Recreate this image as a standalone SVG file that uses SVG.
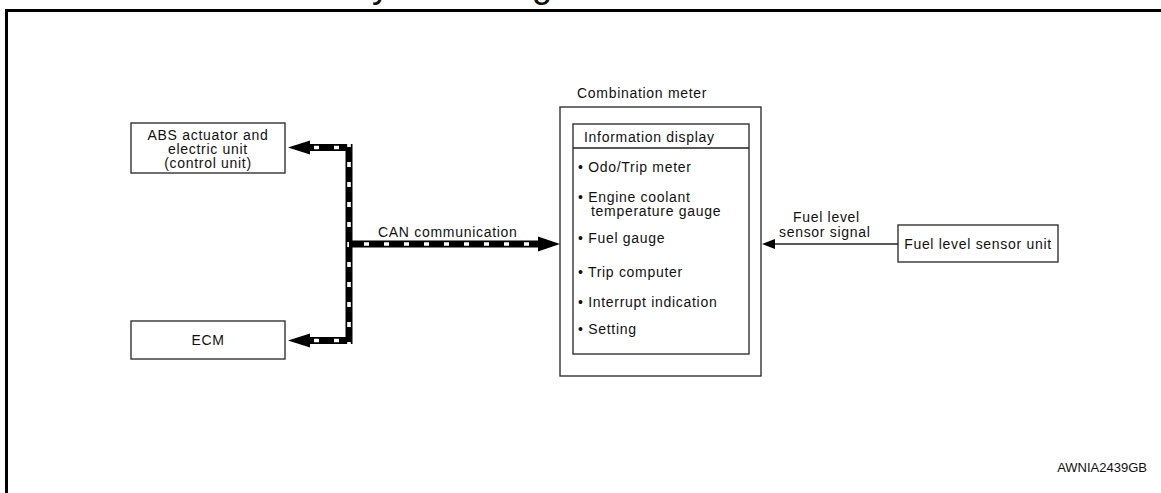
<svg xmlns="http://www.w3.org/2000/svg" width="1161" height="493" viewBox="0 0 1161 493">
<style>
text{font-family:"Liberation Sans",Arial,sans-serif;font-size:14px;letter-spacing:0.7px;fill:#111}
.box{fill:#fff;stroke:#333;stroke-width:1.4}
.bus{fill:none;stroke:#000;stroke-width:7;stroke-linejoin:miter}
.busw{fill:none;stroke:#fff;stroke-width:3.6;stroke-dasharray:5 15}
.thin{fill:none;stroke:#222;stroke-width:1.4}
.c{text-anchor:middle}
</style>
<rect width="1161" height="493" fill="#fff"/>
<text x="348" y="-3.5" style="font-size:36px;letter-spacing:0">System Diagram</text>
<path d="M6.5,493 V10.5 H1161" fill="none" stroke="#000" stroke-width="3"/>

<g id="abs">
<rect class="box" x="131" y="123" width="154" height="50"/>
<text class="c" x="208" y="140">ABS actuator and</text>
<text class="c" x="208" y="154">electric unit</text>
<text class="c" x="208" y="168">(control unit)</text>
</g>
<g id="ecm">
<rect class="box" x="131" y="321" width="154" height="38"/>
<text class="c" x="208" y="345">ECM</text>
</g>
<g id="combination-meter">
<text x="577" y="98">Combination meter</text>
<rect class="box" x="560" y="107" width="201" height="269"/>
<rect class="box" x="573" y="124" width="176" height="230"/>
<line class="thin" x1="573" y1="148" x2="749" y2="148"/>
<text x="584" y="142">Information display</text>
<text x="578" y="172">• Odo/Trip meter</text>
<text x="578" y="202">• Engine coolant</text>
<text x="591" y="216">temperature gauge</text>
<text x="578" y="243">• Fuel gauge</text>
<text x="578" y="277">• Trip computer</text>
<text x="578" y="307">• Interrupt indication</text>
<text x="578" y="334">• Setting</text>
</g>
<g id="fuel-sensor">
<rect class="box" x="898" y="225" width="160" height="37"/>
<text class="c" x="978" y="249">Fuel level sensor unit</text>
</g>

<g id="connectors">
<path class="bus" d="M310,147.5 H349 V340.5 H310"/>
<path class="busw" d="M349,140 V347" stroke-dashoffset="-2"/>
<path class="busw" d="M342,147.5 H308" stroke-dashoffset="-3"/>
<path class="busw" d="M342,340.5 H308" stroke-dashoffset="-3"/>
<line class="bus" x1="349" y1="244" x2="539" y2="244"/>
<path class="busw" d="M356,244 H540" stroke-dashoffset="-8"/>
<path d="M288,147.5 L310,140.5 L310,154.5 Z" fill="#000"/>
<path d="M288,340.5 L310,333.5 L310,347.5 Z" fill="#000"/>
<path d="M560,244 L538,236.5 L538,251.5 Z" fill="#000"/>
<line class="thin" x1="898" y1="244" x2="774" y2="244"/>
<path d="M762,244 L775,239 L775,249 Z" fill="#000"/>
<text x="378" y="237">CAN communication</text>
<text x="793" y="222">Fuel level</text>
<text x="779" y="237">sensor signal</text>
</g>
<text x="1147" y="472" style="font-size:13px;letter-spacing:0;text-anchor:end">AWNIA2439GB</text>
</svg>
